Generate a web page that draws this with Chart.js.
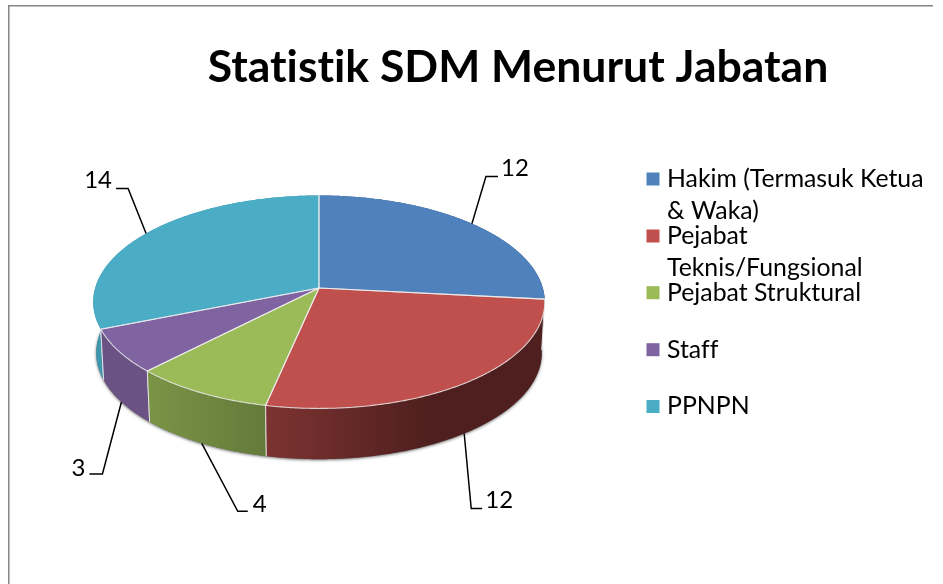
<!DOCTYPE html>
<html><head><meta charset="utf-8">
<style>html,body{margin:0;padding:0;background:#fff}#w{width:943px;height:584px;position:relative}</style>
<script src="https://cdn.jsdelivr.net/npm/chart.js@4"></script>
</head><body><div id="w"><canvas id="c" width="943" height="584"></canvas></div>
<script>
const titleText = 'Statistik SDM Menurut Jabatan';
const categories = ['Hakim (Termasuk Ketua & Waka)','Pejabat Teknis/Fungsional','Pejabat Struktural','Staff','PPNPN'];
const legendLines = [['Hakim (Termasuk Ketua','& Waka)'],['Pejabat','Teknis/Fungsional'],['Pejabat Struktural'],['Staff'],['PPNPN']];
const values = [12,12,4,3,14];
const colors = ['#4f81bd','#c0504d','#9bbb59','#8064a2','#4bacc6'];
const wallLight = ['#3e6696','#7c3331','#7a9446','#6a5285','#3f97ae'];
const wallDark  = ['#2f4e73','#4e1f1e','#647a3a','#6a5285','#3f97ae'];

const FONT = 'Lato, "Open Sans", sans-serif';
const K = 0.131;                       // perspective strength
const topFace = {bx:225/193, ay:105.2/193, dy:0};
const botFace = {bx:222/193, ay:105/193, dy:51};
function proj(el, t, f){
  const u=Math.sin(t), v=Math.cos(t), w=1+K*v;
  return {x: el.x + el.outerRadius*f.bx*u/w, y: el.y + f.dy - el.outerRadius*f.ay*v/w};
}
const clock = a => a + Math.PI/2;
function edge(ctx, el, f, a, b, first){
  const n = Math.max(2, Math.ceil(Math.abs(b-a)/0.01));
  for(let i=0;i<=n;i++){
    const p = proj(el, a+(b-a)*i/n, f);
    if(i===0 && first) ctx.moveTo(p.x,p.y); else ctx.lineTo(p.x,p.y);
  }
}
// leader-line offsets from each slice's anchor
const leaders = [
  {face:topFace, elbow:[14,-47], end:[26,-47], label:[43,-55]},
  {face:botFace, elbow:[7,75],   end:[18,75],  label:[35,67]},
  {face:botFace, elbow:[36,68],  end:[46,68],  label:[58,61]},
  {face:botFace, elbow:[-19,72], end:[-32,72], label:[-43,66]},
  {face:topFace, elbow:[-18,-45],end:[-30,-45],label:[-48,-53]}
];
const pie3d = {
  id:'pie3d',
  afterLayout(chart){
    const tb = chart.titleBlock; tb.left = 0; tb.right = 1036;
  },
  beforeDraw(chart){
    const ctx=chart.ctx; ctx.save();
    ctx.strokeStyle='#868686'; ctx.lineWidth=1.5;
    ctx.beginPath(); ctx.moveTo(8.75,584); ctx.lineTo(8.75,5.75); ctx.lineTo(933,5.75); ctx.stroke();
    ctx.restore();
    ctx.letterSpacing='0.01px';
  },
  beforeDatasetsDraw(chart){
    const ctx=chart.ctx, arcs=chart.getDatasetMeta(0).data;
    const el0=arcs[0];
    ctx.save();
    // soft shadow under the base
    ctx.save();
    ctx.shadowColor='rgba(0,0,0,0.55)'; ctx.shadowBlur=3; ctx.shadowOffsetY=1; ctx.shadowOffsetX=0;
    ctx.fillStyle='#777';
    ctx.beginPath(); edge(ctx,el0,botFace,0,Math.PI*2,true); ctx.closePath(); ctx.fill();
    ctx.restore();
    // walls, back to front
    [0,4,3,2,1].forEach(i=>{
      const el=arcs[i], a=clock(el.startAngle), b=clock(el.endAngle);
      const pa=proj(el,a,botFace), pb=proj(el,b,botFace);
      const x0=Math.min(pa.x,pb.x), x1=Math.max(pa.x,pb.x);
      const g=ctx.createLinearGradient(x0,0,x1,0);
      g.addColorStop(0,wallLight[i]);
      g.addColorStop(i===1?0.6:1,wallDark[i]);
      if(i===1) g.addColorStop(1,wallDark[i]);
      ctx.fillStyle=g;
      ctx.beginPath(); edge(ctx,el,topFace,a,b,true); edge(ctx,el,botFace,b,a,false); ctx.closePath(); ctx.fill();
      ctx.strokeStyle='rgba(235,235,235,0.85)'; ctx.lineWidth=1;
      const pt=proj(el,a,topFace), pt2=proj(el,b,topFace);
      ctx.beginPath(); ctx.moveTo(pt.x,pt.y); ctx.lineTo(pa.x,pa.y);
      ctx.moveTo(pt2.x,pt2.y); ctx.lineTo(pb.x,pb.y); ctx.stroke();
    });
    // top faces
    arcs.forEach((el,i)=>{
      const a=clock(el.startAngle), b=clock(el.endAngle);
      ctx.fillStyle=colors[i];
      ctx.beginPath(); ctx.moveTo(el.x,el.y); edge(ctx,el,topFace,a,b,false); ctx.closePath(); ctx.fill();
    });
    arcs.forEach((el,i)=>{
      const a=clock(el.startAngle), b=clock(el.endAngle);
      ctx.strokeStyle='rgba(240,240,240,0.8)'; ctx.lineWidth=1.1; ctx.lineJoin='round';
      ctx.beginPath(); ctx.moveTo(el.x,el.y); edge(ctx,el,topFace,a,b,false); ctx.closePath();
      if(i===0||i===4){ ctx.beginPath(); const p=proj(el,a,topFace), q=proj(el,b,topFace);
        ctx.moveTo(p.x,p.y); ctx.lineTo(el.x,el.y); ctx.lineTo(q.x,q.y);}
      ctx.stroke();
    });
    // leader lines and value labels
    ctx.fillStyle='#000'; ctx.strokeStyle='#000'; ctx.lineWidth=1.5; ctx.lineJoin='miter';
    ctx.font='24px '+FONT; ctx.textAlign='center'; ctx.textBaseline='middle';
    arcs.forEach((el,i)=>{
      const L=leaders[i], p=proj(el,(clock(el.startAngle)+clock(el.endAngle))/2,L.face);
      ctx.beginPath(); ctx.moveTo(p.x,p.y); ctx.lineTo(p.x+L.elbow[0],p.y+L.elbow[1]); ctx.lineTo(p.x+L.end[0],p.y+L.end[1]); ctx.stroke();
      ctx.fillText(String(values[i]),p.x+L.label[0],p.y+L.label[1]);
    });
    // legend
    const rows=[179,236,292.7,349.7,406.5];
    ctx.font='24.8px '+FONT; ctx.textAlign='left'; ctx.textBaseline='middle';
    legendLines.forEach((lines,i)=>{
      ctx.fillStyle=colors[i]; ctx.fillRect(646.5,rows[i]-6.5,13,13);
      ctx.fillStyle='#000';
      lines.forEach((s,j)=>ctx.fillText(s,667,rows[i]+j*32.5));
    });
    ctx.restore();
    return false;
  }
};
new Chart(document.getElementById('c'),{
  type:'pie',
  data:{labels:categories,datasets:[{data:values,backgroundColor:colors}]},
  options:{
    responsive:false,animation:false,
    layout:{padding:{left:126,right:431,top:0,bottom:103}},
    plugins:{
      legend:{display:false},tooltip:{enabled:false},
      title:{display:true,text:titleText,color:'#000',align:'center',
        font:{family:FONT,size:44.5,weight:'bold',lineHeight:1.2},padding:{top:41,bottom:0.6}}
    }
  },
  plugins:[pie3d]
});
</script></body></html>
